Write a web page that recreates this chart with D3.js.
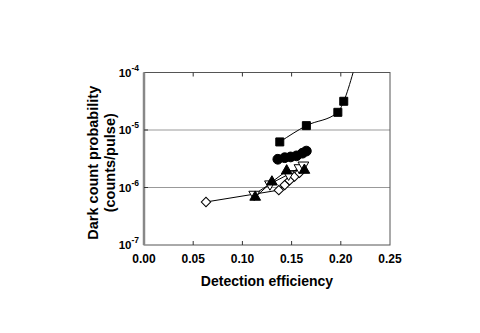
<!DOCTYPE html>
<html>
<head>
<meta charset="utf-8">
<script src="https://cdn.jsdelivr.net/npm/d3@7"></script>
<style>
  body { margin: 0; background: #fff; }
  svg { display: block; font-family: "Liberation Sans", Arial, sans-serif; }
</style>
</head>
<body>
<div id="chart"></div>
<script>
// series: [efficiency, dark count probability]
const squares = [[0.138, 6.2e-6], [0.165, 1.19e-5], [0.197, 2.03e-5], [0.203, 3.16e-5]];
const squaresFitEnd = [[0.2125, 1.0e-4]];
const circles = [[0.136, 3.1e-6], [0.143, 3.3e-6], [0.149, 3.4e-6], [0.155, 3.55e-6], [0.161, 3.95e-6], [0.165, 4.3e-6]];
const triUp = [[0.113, 6.8e-7], [0.130, 1.25e-6], [0.145, 1.95e-6], [0.163, 2.0e-6]];
const triDown = [[0.112, 7.6e-7], [0.128, 1.15e-6], [0.147, 1.7e-6], [0.158, 2.2e-6], [0.162, 2.45e-6]];
const diamonds = [[0.063, 5.6e-7], [0.137, 9.0e-7], [0.143, 1.1e-6], [0.148, 1.33e-6], [0.153, 1.55e-6], [0.158, 1.8e-6]];

const xTicks = [0, 0.05, 0.10, 0.15, 0.20, 0.25];
const yTicks = [1e-7, 1e-6, 1e-5, 1e-4];
const gridLines = [1e-6, 1e-5];

const width = 480, height = 333;
const margin = { top: 72.5, right: 90, bottom: 88, left: 144 };

const svg = d3.select("#chart").append("svg")
    .attr("width", width)
    .attr("height", height);

const x = d3.scaleLinear()
    .domain([0, 0.25])
    .range([margin.left, width - margin.right]);

const y = d3.scaleLog()
    .domain([1e-7, 1e-4])
    .range([height - margin.bottom, margin.top]);

// grid lines
svg.append("g")
    .selectAll("line")
    .data(gridLines)
    .join("line")
    .attr("x1", x(0))
    .attr("x2", x(0.25))
    .attr("y1", d => y(d))
    .attr("y2", d => y(d))
    .attr("stroke", "#999")
    .attr("stroke-width", 1);

// frame
svg.append("rect")
    .attr("x", x(0))
    .attr("y", y(1e-4))
    .attr("width", x(0.25) - x(0))
    .attr("height", y(1e-7) - y(1e-4))
    .attr("fill", "none")
    .attr("stroke", "#555")
    .attr("stroke-width", 1);

svg.append("line")
    .attr("x1", x(0))
    .attr("x2", x(0))
    .attr("y1", y(1e-4))
    .attr("y2", y(1e-7))
    .attr("stroke", "#888")
    .attr("stroke-width", 2.5);

// ticks, pointing inside
const tickG = svg.append("g").attr("stroke", "#333");
tickG.selectAll(".tb")
    .data(xTicks.slice(1, -1))
    .join("line")
    .attr("x1", d => x(d)).attr("x2", d => x(d))
    .attr("y1", y(1e-7)).attr("y2", y(1e-7) - 4);
tickG.selectAll(".tt")
    .data(xTicks.slice(1, -1))
    .join("line")
    .attr("class", "tt")
    .attr("x1", d => x(d)).attr("x2", d => x(d))
    .attr("y1", y(1e-4)).attr("y2", y(1e-4) + 4);
tickG.selectAll(".ty")
    .data(yTicks.slice(1, -1))
    .join("line")
    .attr("class", "ty")
    .attr("x1", x(0)).attr("x2", x(0) + 4)
    .attr("y1", d => y(d)).attr("y2", d => y(d));

// x tick labels
svg.append("g")
    .selectAll("text")
    .data(xTicks)
    .join("text")
    .attr("x", d => x(d))
    .attr("y", y(1e-7) + 18)
    .attr("text-anchor", "middle")
    .attr("font-size", "12px")
    .attr("font-weight", "bold")
    .text(d => d.toFixed(2));

// y tick labels: 10 with superscript exponent
const yl = svg.append("g")
    .selectAll("text")
    .data(yTicks)
    .join("text")
    .attr("x", x(0) - 5)
    .attr("y", d => y(d) + 4)
    .attr("text-anchor", "end")
    .attr("font-size", "11.5px")
    .attr("font-weight", "bold");
yl.append("tspan").text("10");
yl.append("tspan")
    .attr("dy", -6)
    .attr("font-size", "8.5px")
    .text(d => Math.round(Math.log10(d)));

// axis titles
svg.append("text")
    .attr("x", (x(0) + x(0.25)) / 2)
    .attr("y", 286)
    .attr("text-anchor", "middle")
    .attr("font-size", "14px")
    .attr("font-weight", "bold")
    .text("Detection efficiency");

const yTitle = svg.append("text")
    .attr("transform", `translate(98, ${(y(1e-4) + y(1e-7)) / 2 + 4}) rotate(-90)`)
    .attr("text-anchor", "middle")
    .attr("font-size", "14.5px")
    .attr("font-weight", "bold");
yTitle.append("tspan").attr("x", 0).attr("dy", 0).text("Dark count probability");
yTitle.append("tspan").attr("x", 0).attr("dy", 16.5).text("(counts/pulse)");

// lines
const plot = svg.append("g");
const line = d3.line().x(d => x(d[0])).y(d => y(d[1]));
const smooth = d3.line().x(d => x(d[0])).y(d => y(d[1])).curve(d3.curveMonotoneX);

plot.append("path").datum(squares.concat(squaresFitEnd))
    .attr("d", smooth).attr("fill", "none").attr("stroke", "#000").attr("stroke-width", 1);
plot.append("path").datum(circles)
    .attr("d", smooth).attr("fill", "none").attr("stroke", "#000").attr("stroke-width", 1);
[diamonds, triDown, triUp].forEach(s => {
    plot.append("path").datum(s)
        .attr("d", line).attr("fill", "none").attr("stroke", "#000").attr("stroke-width", 1);
});

// markers
function marker(data, type, size, filled, rotate) {
    plot.append("g")
        .selectAll("path")
        .data(data)
        .join("path")
        .attr("transform", d => `translate(${x(d[0])},${y(d[1])}) rotate(${rotate || 0})`)
        .attr("d", d3.symbol().type(type).size(size))
        .attr("fill", filled ? "#000" : "#fff")
        .attr("stroke", "#000")
        .attr("stroke-width", 1);
}

marker(diamonds, d3.symbolSquare, 44, false, 45);
marker(triDown, d3.symbolTriangle, 50, false, 180);
marker(triUp, d3.symbolTriangle, 50, true);
marker(circles, d3.symbolCircle, 75, true);
marker(squares, d3.symbolSquare, 64, true);
</script>
</body>
</html>
